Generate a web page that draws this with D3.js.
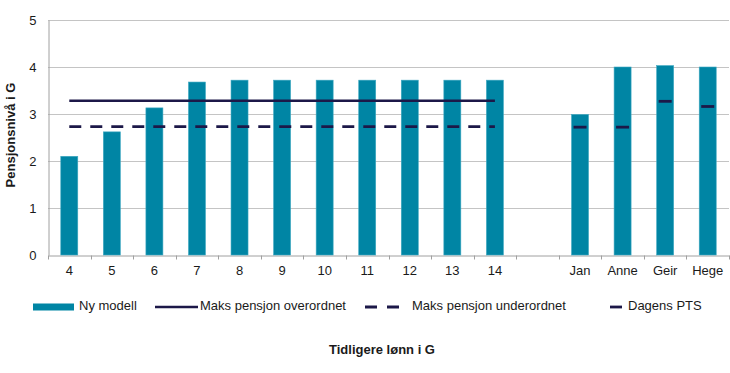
<!DOCTYPE html>
<html>
<head>
<meta charset="utf-8">
<script src="https://cdn.jsdelivr.net/npm/d3@7"></script>
<style>
  html, body { margin: 0; padding: 0; background: #fff; }
  svg text { font-family: "Liberation Sans", Arial, sans-serif; }
</style>
</head>
<body>
<script>
'use strict';

// categories along the x axis ('' is the empty gap slot)
const categories = ['4', '5', '6', '7', '8', '9', '10', '11', '12', '13', '14', '', 'Jan', 'Anne', 'Geir', 'Hege'];
// Ny modell bars
const nyModell = [2.1, 2.62, 3.13, 3.68, 3.72, 3.72, 3.72, 3.72, 3.72, 3.72, 3.72, null, 2.99, 4.0, 4.03, 4.0];
// reference lines over the 4..14 span
const lineCats = ['4', '5', '6', '7', '8', '9', '10', '11', '12', '13', '14'];
const maksOverordnet = [3.28, 3.28, 3.28, 3.28, 3.28, 3.28, 3.28, 3.28, 3.28, 3.28, 3.28];
const maksUnderordnet = [2.73, 2.73, 2.73, 2.73, 2.73, 2.73, 2.73, 2.73, 2.73, 2.73, 2.73];
// Dagens PTS markers
const ptsCats = ['Jan', 'Anne', 'Geir', 'Hege'];
const ptsValues = [2.72, 2.72, 3.27, 3.16];
const yTicks = [0, 1, 2, 3, 4, 5];

const W = 730, H = 373;
const M = { left: 48, right: 1, top: 20, bottom: 118 };
const TEAL = '#0085a4', NAVY = '#1c1848', GRID = '#c4c4c4', TEXT = '#1a1a1a';

const svg = d3.select('body').append('svg')
  .attr('width', W).attr('height', H)
  .attr('viewBox', `0 0 ${W} ${H}`);
svg.append('rect').attr('width', W).attr('height', H).attr('fill', '#fff');

const x = d3.scaleBand().domain(categories.map((c, i) => i))
  .range([M.left, W - M.right]).paddingInner(0).paddingOuter(0);
const xc = c => x(categories.indexOf(c)) + x.bandwidth() / 2;
const y = d3.scaleLinear().domain([0, 5]).range([H - M.bottom, M.top]);

// gridlines
svg.append('g').selectAll('line').data(yTicks.filter(t => t > 0)).join('line')
  .attr('x1', M.left).attr('x2', W - M.right)
  .attr('y1', d => Math.round(y(d)) + 0.5).attr('y2', d => Math.round(y(d)) + 0.5)
  .attr('stroke', GRID).attr('stroke-width', 1);

// y axis
const yAxis = svg.append('g').attr('transform', `translate(${M.left + 0.5},0)`)
  .call(d3.axisLeft(y).tickValues(yTicks).tickFormat(d3.format('d')).tickSize(0).tickPadding(12));
yAxis.select('.domain').attr('stroke', '#a0a0a0');
yAxis.selectAll('text').attr('font-size', 13).attr('fill', TEXT)
  .attr('font-family', '"Liberation Sans", Arial, sans-serif');

// x axis
const xAxis = svg.append('g').attr('transform', `translate(0,${Math.round(y(0)) + 0.5})`)
  .call(d3.axisBottom(x).tickFormat(i => categories[i]).tickSize(0).tickPadding(10));
xAxis.select('.domain').attr('stroke', '#a0a0a0');
xAxis.selectAll('text').attr('font-size', 13).attr('fill', TEXT)
  .attr('font-family', '"Liberation Sans", Arial, sans-serif');
// small tick marks between categories
xAxis.append('g').selectAll('line').data(d3.range(categories.length + 1)).join('line')
  .attr('x1', i => Math.round(M.left + i * x.bandwidth()) + 0.5)
  .attr('x2', i => Math.round(M.left + i * x.bandwidth()) + 0.5)
  .attr('y1', 0).attr('y2', 4).attr('stroke', '#a0a0a0');

// bars
const barW = 17;
svg.append('g').selectAll('rect')
  .data(nyModell.map((v, i) => ({ v, i })).filter(d => d.v !== null)).join('rect')
  .attr('x', d => x(d.i) + x.bandwidth() / 2 - barW / 2)
  .attr('y', d => y(d.v))
  .attr('width', barW)
  .attr('height', d => y(0) - y(d.v))
  .attr('fill', TEAL)
  .attr('stroke', '#3fa9c2').attr('stroke-width', 0.6);

// lines
const line = d3.line().x(d => xc(d.c)).y(d => y(d.v));
svg.append('path')
  .attr('d', line(lineCats.map((c, i) => ({ c, v: maksOverordnet[i] }))))
  .attr('fill', 'none').attr('stroke', NAVY).attr('stroke-width', 2.5);
svg.append('path')
  .attr('d', line(lineCats.map((c, i) => ({ c, v: maksUnderordnet[i] }))))
  .attr('fill', 'none').attr('stroke', NAVY).attr('stroke-width', 2.8)
  .attr('stroke-dasharray', '12,9');

// Dagens PTS markers
svg.append('g').selectAll('line').data(ptsCats.map((c, i) => ({ c, v: ptsValues[i] }))).join('line')
  .attr('x1', d => xc(d.c) - 6.5).attr('x2', d => xc(d.c) + 6.5)
  .attr('y1', d => y(d.v)).attr('y2', d => y(d.v))
  .attr('stroke', NAVY).attr('stroke-width', 2.8);

// y axis title
svg.append('text')
  .attr('transform', `translate(12,${135}) rotate(-90)`)
  .attr('text-anchor', 'middle').attr('dominant-baseline', 'middle')
  .attr('font-size', 13).attr('font-weight', 700).attr('fill', TEXT)
  .text('Pensjonsnivå i G');

// x axis title
svg.append('text')
  .attr('x', 382).attr('y', 354)
  .attr('text-anchor', 'middle')
  .attr('font-size', 13).attr('font-weight', 700).attr('fill', TEXT)
  .text('Tidligere lønn i G');

// legend
const ly = 307;
const leg = svg.append('g');
leg.append('rect').attr('x', 33).attr('y', ly - 3.5).attr('width', 41).attr('height', 7).attr('fill', TEAL);
leg.append('line').attr('x1', 155).attr('x2', 198).attr('y1', ly).attr('y2', ly)
  .attr('stroke', NAVY).attr('stroke-width', 2.5);
leg.append('line').attr('x1', 365).attr('x2', 399).attr('y1', ly).attr('y2', ly)
  .attr('stroke', NAVY).attr('stroke-width', 2.8).attr('stroke-dasharray', '12,10');
leg.append('line').attr('x1', 610).attr('x2', 622).attr('y1', ly).attr('y2', ly)
  .attr('stroke', NAVY).attr('stroke-width', 2.8);
const legendItems = [
  { x: 79, t: 'Ny modell' },
  { x: 200, t: 'Maks pensjon overordnet' },
  { x: 412, t: 'Maks pensjon underordnet' },
  { x: 628, t: 'Dagens PTS' }
];
leg.selectAll('text.lt').data(legendItems).join('text')
  .attr('x', d => d.x).attr('y', ly).attr('dominant-baseline', 'middle')
  .attr('font-size', 13).attr('fill', TEXT).text(d => d.t);
</script>
</body>
</html>
